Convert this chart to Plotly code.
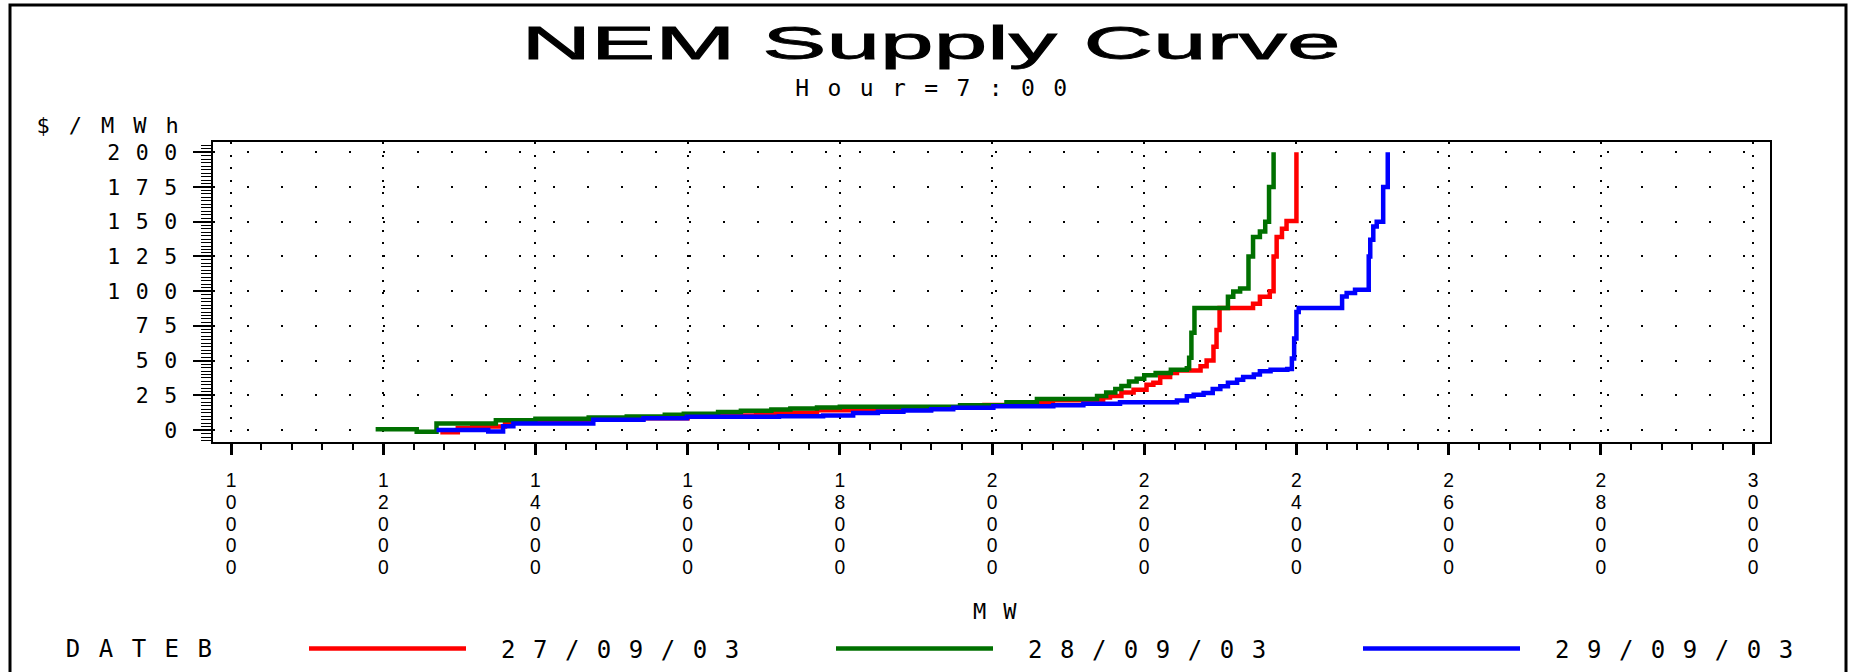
import plotly.graph_objects as go

# ---------------- data ----------------
dates = ["27/09/03", "28/09/03", "29/09/03"]
colors = ["#FF0000", "#007000", "#0000FF"]

mw_27 = [12750, 12980, 13170, 13600, 14060, 14700, 15400, 16000, 16300, 16900,
         17700, 18400, 19200, 19900, 20280, 20800, 21460, 21550, 21700, 21860,
         22030, 22120, 22210, 22340, 22430, 22740, 22820, 22910, 22950, 22990,
         23430, 23520, 23650, 23700, 23740, 23810, 23870, 24000]
price_27 = [-1.5, 1.4, 2.5, 5.2, 6.6, 7.5, 8.5, 9.5, 10.5, 12.4,
            14.2, 15.0, 16.5, 18.0, 19.5, 21.4, 23.5, 24.5, 27.0, 29.0,
            32.7, 34.0, 38.2, 41.0, 42.8, 45.9, 50.0, 60.0, 72.0, 87.8,
            91.0, 96.0, 100.0, 125.0, 139.0, 145.0, 150.6, 200.0]

mw_28 = [11900, 12440, 12700, 13480, 14000, 14700, 15200, 15700, 15950, 16400,
         16700, 17100, 17350, 17700, 18000, 19580, 20190, 20590, 21380, 21500,
         21620, 21700, 21800, 21900, 22000, 22150, 22350, 22560, 22590, 22620,
         22660, 23100, 23170, 23260, 23370, 23430, 23520, 23590, 23640, 23700]
price_28 = [0.5, -1.2, 4.7, 7.0, 8.2, 9.0, 9.8, 11.0, 11.8, 13.0,
            13.9, 14.8, 15.5, 16.2, 16.8, 17.9, 20.0, 22.4, 24.6, 27.0,
            29.5, 31.7, 35.0, 37.0, 39.5, 41.0, 43.5, 44.5, 52.0, 70.0,
            87.8, 96.0, 99.8, 102.0, 125.0, 139.0, 143.0, 150.0, 175.0, 200.0]

mw_29 = [12700, 13380, 13575, 13710, 14760, 15420, 15990, 17200, 17780, 18175,
         18500, 18835, 19200, 19490, 20017, 20805, 21200, 21682, 22430, 22560,
         22650, 22780, 22900, 23000, 23100, 23220, 23300, 23440, 23520, 23660,
         23880, 23940, 23970, 24000, 24030, 24600, 24660, 24770, 24950, 24970,
         25010, 25055, 25140, 25200]
price_29 = [0.0, -1.0, 2.7, 4.8, 7.5, 8.5, 9.5, 10.0, 10.4, 12.3,
            13.2, 14.0, 15.0, 16.0, 17.1, 17.9, 19.0, 20.0, 21.2, 24.3,
            25.5, 26.7, 29.5, 31.5, 34.0, 36.3, 38.2, 40.0, 42.3, 43.5,
            44.0, 51.6, 66.0, 85.0, 87.8, 96.2, 98.6, 101.0, 125.0, 137.0,
            146.5, 150.0, 175.0, 200.0]

x_tick_values = [10000, 12000, 14000, 16000, 18000, 20000, 22000, 24000, 26000, 28000, 30000]
x_tick_text = ["<br>".join(str(v)) for v in x_tick_values]
y_tick_values = [0, 25, 50, 75, 100, 125, 150, 175, 200]

title_text = "NEM Supply Curve"
subtitle_text = "Hour=7:00"
y_title = "$/MWh"
x_title = "MW"
legend_title = "DATEB"

# ---------------- layout geometry ----------------
W, H = 1849, 672
L, R, T, B = 213, 1770, 142, 442


def px_x(p):
    return (p - L) / (R - L)


def px_y(p):
    return (B - p) / (B - T)


MONO = "DejaVu Sans Mono"
ITEMW = 157

fig = go.Figure()
for d, c, xs, ys in zip(dates, colors, [mw_27, mw_28, mw_29], [price_27, price_28, price_29]):
    fig.add_trace(go.Scatter(x=xs, y=ys, mode="lines", name=d,
                             line=dict(color=c, width=4.5, shape="hv")))

fig.update_layout(
    width=W, height=H,
    margin=dict(l=L, r=W - R, t=T, b=H - B, pad=0, autoexpand=False),
    paper_bgcolor="white", plot_bgcolor="white",
    title=dict(text=title_text, x=931 / W, xref="container", xanchor="center",
               y=1 - 43 / H, yref="container", yanchor="middle", automargin=False,
               font=dict(family="Liberation Sans", size=46, color="black")),
    showlegend=True,
    legend=dict(orientation="h", x=px_x(200), y=px_y(649), xanchor="left", yanchor="middle",
                indentation=104, itemwidth=ITEMW, entrywidth=251, entrywidthmode="pixels",
                font=dict(family=MONO, size=24, color="black"),
                bgcolor="rgba(0,0,0,0)", borderwidth=0, traceorder="normal"),
    xaxis=dict(range=[9763, 30223], tickmode="array", tickvals=x_tick_values, ticktext=x_tick_text,
               showline=True, mirror=True, linecolor="black", linewidth=2,
               ticks="outside", ticklen=11, tickwidth=2.5, tickcolor="black",
               minor=dict(dtick=400, ticks="outside", ticklen=6, tickwidth=2, tickcolor="black", showgrid=False),
               showgrid=True, gridcolor="black", gridwidth=1.5, griddash="2px,10.5px",
               zeroline=False, tickangle=0, automargin=False, ticklabelstandoff=9,
               tickfont=dict(family="Liberation Sans", size=19.3, color="black")),
    yaxis=dict(range=[-8.6, 207.4], tickmode="array", tickvals=y_tick_values,
               showline=True, mirror=True, linecolor="black", linewidth=2,
               ticks="outside", ticklen=18, tickwidth=2, tickcolor="black",
               minor=dict(dtick=2.5, ticks="outside", ticklen=10, tickwidth=1.2, tickcolor="black", showgrid=False),
               showgrid=True, gridcolor="black", gridwidth=1.5, griddash="2px,32px",
               zeroline=False, ticklabelstandoff=-4, automargin=False,
               tickfont=dict(family=MONO, size=21.5, color="black")),
    shapes=[dict(type="rect", xref="paper", yref="paper",
                 x0=px_x(10), x1=px_x(1846), y0=px_y(700), y1=px_y(5),
                 line=dict(color="black", width=3), fillcolor="rgba(0,0,0,0)", layer="below")],
    annotations=[
        dict(text=subtitle_text, xref="paper", yref="paper", x=px_x(940.7), y=px_y(88),
             xanchor="center", yanchor="middle", showarrow=False,
             font=dict(family=MONO, size=23, color="black")),
        dict(text=y_title, xref="paper", yref="paper", x=px_x(117), y=px_y(125),
             xanchor="center", yanchor="middle", showarrow=False,
             font=dict(family=MONO, size=22, color="black")),
        dict(text=x_title, xref="paper", yref="paper", x=px_x(1003), y=px_y(611),
             xanchor="center", yanchor="middle", showarrow=False,
             font=dict(family=MONO, size=22, color="black")),
        dict(text=legend_title, xref="paper", yref="paper", x=px_x(148), y=px_y(649),
             xanchor="center", yanchor="middle", showarrow=False,
             font=dict(family=MONO, size=24, color="black")),
    ],
)

post_js = """
document.body.style.margin = '0';
var gd = document.getElementById('{plot_id}');
function spaced(sel, ls) {
  document.querySelectorAll(sel).forEach(function (t) { t.style.letterSpacing = ls + 'px'; });
}
function styleAll() {
  spaced('.ytick text', 15.5);
  spaced('.legendtext', 17.5);
  var anns = document.querySelectorAll('.annotation-text');
  anns.forEach(function (t) {
    var s = t.textContent;
    var ls = 17;
    if (s.indexOf('Hour') === 0) ls = 18.4;
    else if (s.indexOf('MWh') >= 0) ls = 19;
    else if (s === 'DATEB') ls = 18.5;
    t.style.letterSpacing = ls + 'px';
  });
  var tt = document.querySelector('.gtitle');
  if (tt) {
    var bb = tt.getBBox();
    if (bb.width > 0) {
      var s = 819 / bb.width;
      tt.style.transformBox = 'fill-box';
      tt.style.transformOrigin = 'center';
      tt.style.transform = 'scaleX(' + s + ')';
      tt.style.stroke = 'black';
      tt.style.strokeWidth = '0.8px';
    }
  }
  document.querySelectorAll('.xtick text').forEach(function (t) {
    var lines = t.querySelectorAll('tspan.line');
    lines.forEach(function (ts, i) { ts.setAttribute('dy', (i * 21.7) + 'px'); });
  });
  document.querySelectorAll('.legend [clip-path]').forEach(function (e) {
    e.removeAttribute('clip-path');
  });
  document.querySelectorAll('.legendtext').forEach(function (t) {
    var x0 = parseFloat(t.getAttribute('x'));
    if (isNaN(x0)) return;
    if (t.__setX === undefined || Math.abs(x0 - t.__setX) > 0.01) {
      t.__setX = x0 + 30;
      t.setAttribute('x', t.__setX);
    }
  });
}
styleAll();
if (gd && gd.on) { gd.on('plotly_afterplot', styleAll); }
"""

fig.write_html("out.html", post_script=post_js, config={"displayModeBar": False})
